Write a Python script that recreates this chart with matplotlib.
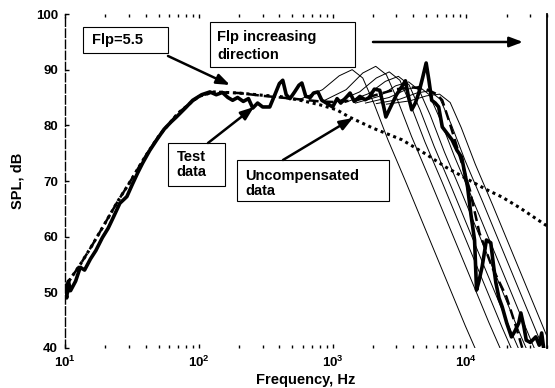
import matplotlib
matplotlib.use("Agg")
import matplotlib.pyplot as plt
from matplotlib.patches import Rectangle

plt.rcParams['font.family'] = ['Liberation Sans', 'DejaVu Sans']
plt.rcParams['font.weight'] = 'bold'

# test data (thick solid)
test_f = [10, 10.3, 10.6, 11, 12, 13, 14, 15.5, 17, 19, 21, 23, 25.7, 29, 32, 35, 38, 43,
          48.5, 55, 62, 68, 80, 90, 105, 121, 135, 150, 165, 179, 195, 215, 235, 253, 275,
          300, 339, 370, 400, 424, 450, 480, 520, 560, 589, 630, 680, 720, 776, 830, 900,
          1000, 1080, 1150, 1260, 1350, 1450, 1600, 1750, 1880, 2050, 2250, 2400, 2500,
          2650, 2800, 3000, 3300, 3500, 3700, 3900, 4150, 4400, 4700, 5000, 5250, 5500,
          5850, 6200, 6600, 7200, 7800, 8500, 9200, 9800, 10200, 10800, 11500, 11900,
          12400, 13100, 14100, 15200, 16000, 16600, 17500, 18500, 20000, 21700, 23000,
          24600, 25500, 26800, 28000, 30000, 33000, 35000, 36500, 38000, 40000]
test_db = [50.5, 49.0, 52.0, 50.3, 52.0, 54.5, 54.0, 56.0, 57.5, 59.8, 61.5, 63.5, 66.0,
           67.2, 69.5, 71.5, 73.2, 75.5, 77.4, 79.3, 80.6, 81.5, 83.2, 84.5, 85.5, 86.0,
           85.5, 85.9, 85.0, 84.5, 85.0, 84.3, 84.8, 83.1, 84.0, 83.3, 83.3, 85.5, 87.5,
           88.1, 85.5, 84.8, 86.0, 87.2, 87.6, 85.2, 85.0, 85.8, 86.0, 84.5, 84.0, 83.3,
           84.8, 84.0, 85.0, 85.8, 84.3, 85.2, 84.6, 85.0, 86.5, 86.3, 83.5, 81.5, 82.8,
           84.0, 85.5, 87.0, 88.0, 85.0, 82.8, 84.0, 85.8, 88.5, 91.2, 88.0, 84.5, 84.0,
           83.3, 79.7, 78.5, 77.4, 75.5, 74.3, 71.0, 68.9, 64.0, 59.4, 50.4, 52.0, 54.6,
           59.4, 58.9, 54.5, 51.7, 49.0, 47.4, 44.5, 42.0, 43.0, 44.5, 46.3, 44.0, 41.4,
           41.0, 42.0, 40.5, 42.7, 39.5, 38.5]

# model Flp=5.5 (thick dashed)
model_f = [10, 13, 16, 20, 25, 30, 40, 50, 70, 100, 130, 200, 300, 500, 800, 1000, 1500,
           2000, 3000, 4000, 5000, 6000, 6600, 7500, 8500, 10600, 12500, 15500, 19900,
           23500, 26000, 27500]
model_db = [51.0, 55.0, 58.5, 62.5, 66.5, 69.5, 74.5, 78.0, 82.2, 85.2, 86.0, 85.8, 85.3,
            84.8, 84.3, 84.2, 84.5, 85.3, 86.5, 86.8, 86.5, 85.6, 84.5, 80.4, 76.1, 68.4,
            60.7, 54.6, 49.2, 43.8, 40.2, 38.5]

# uncompensated (thick dotted)
unc_f = [10, 13, 16, 20, 25, 30, 40, 50, 70, 100, 130, 200, 300, 400, 600, 800, 1070,
         1330, 2000, 3300, 5000, 7000, 10400, 14000, 18500, 25000, 39000, 40000]
unc_db = [51.0, 55.0, 58.5, 62.5, 66.5, 69.5, 74.5, 78.0, 82.2, 85.2, 86.0, 85.8, 85.4,
          85.2, 84.4, 83.7, 82.8, 81.5, 79.5, 77.4, 74.8, 72.5, 70.2, 68.5, 67.1, 65.2,
          62.1, 62.0]

# family of curves, Flp increasing (thin)
thin_f = [
    [560, 840, 1120, 1400, 1680, 2030, 2590, 3500, 4900, 7000, 9800, 12600],
    [840, 1260, 1680, 2100, 2520, 3050, 3890, 5250, 7350, 10500, 14700, 18900],
    [1060, 1590, 2120, 2650, 3180, 3840, 4900, 6630, 9280, 13250, 18550, 23850],
    [1240, 1860, 2480, 3100, 3720, 4500, 5740, 7750, 10850, 15500, 21700, 27900],
    [1480, 2220, 2960, 3700, 4440, 5370, 6850, 9250, 12950, 18500, 25900, 33300],
    [1760, 2640, 3520, 4400, 5280, 6380, 8140, 11000, 15400, 22000, 30800, 39600],
    [2120, 3180, 4240, 5300, 6360, 7690, 9800, 13250, 18550, 26500, 37100, 42000],
    [2520, 3780, 5040, 6300, 7560, 9140, 11650, 15750, 22050, 31500, 44100],
]
thin_db = [
    [84.6, 86.4, 88.9, 90.0, 88.5, 84.0, 77.4, 70.0, 61.5, 52.5, 44.0, 38.0],
    [84.3, 86.4, 89.4, 90.6, 89.1, 84.6, 78.0, 70.6, 62.1, 53.1, 44.6, 38.6],
    [84.2, 86.0, 88.5, 89.6, 88.1, 83.6, 77.0, 69.6, 61.1, 52.1, 43.6, 37.6],
    [84.1, 85.7, 87.9, 88.8, 87.3, 82.8, 76.2, 68.8, 60.3, 51.3, 42.8, 36.8],
    [84.0, 85.2, 87.1, 87.8, 86.3, 81.8, 75.2, 67.8, 59.3, 50.3, 41.8, 35.8],
    [84.0, 85.0, 86.4, 87.0, 85.5, 81.0, 74.4, 67.0, 58.5, 49.5, 41.0, 35.0],
    [83.9, 84.7, 85.8, 86.2, 84.7, 80.2, 73.6, 66.2, 57.7, 48.7, 40.2, 38.7],
    [83.8, 84.4, 85.3, 85.6, 84.1, 79.6, 73.0, 65.6, 57.1, 48.1, 39.6],
]

xticks = [10, 100, 1000, 10000]
xticklabels = [r'$\mathbf{10^{1}}$', r'$\mathbf{10^{2}}$', r'$\mathbf{10^{3}}$', r'$\mathbf{10^{4}}$']
yticks = [40, 50, 60, 70, 80, 90, 100]

plt.rcParams['mathtext.fontset'] = 'custom'
plt.rcParams['mathtext.bf'] = 'Liberation Sans:bold'
plt.rcParams['mathtext.rm'] = 'Liberation Sans'

fig = plt.figure(figsize=(5.55, 3.88), dpi=100)
ax = fig.add_axes([65/555, 1-348/388, 482/555, 334/388])

for f, d in zip(thin_f, thin_db):
    ax.plot(f, d, color='black', lw=0.7)
ax.plot(unc_f, unc_db, color='black', lw=2.2, linestyle=(0, (1, 1.2)))
ax.plot(model_f, model_db, color='black', lw=1.8, linestyle=(0, (4, 2)))
ax.plot(test_f, test_db, color='black', lw=2.6)

ax.set_xscale('log')
ax.set_xlim(10, 40000)
ax.set_ylim(40, 100)
ax.set_xticks(xticks)
ax.set_xticklabels(xticklabels, fontsize=9.5)
ax.set_yticks(yticks)
ax.set_yticklabels([str(v) for v in yticks], fontsize=9.5, fontweight='bold')
ax.tick_params(which='both', direction='in', top=True, right=False, pad=5)
ax.tick_params(which='major', length=3, width=1)
ax.tick_params(which='minor', length=2, width=1)
ax.spines['top'].set_visible(False)
ax.spines['bottom'].set_visible(False)
ax.spines['left'].set_linestyle((0, (6, 2)))
ax.spines['left'].set_linewidth(1.0)
ax.spines['right'].set_linewidth(1.3)

ax.set_xlabel('Frequency, Hz', fontsize=10.5, fontweight='bold', labelpad=2)
ax.set_ylabel('SPL, dB', fontsize=10.5, fontweight='bold', labelpad=8)

# annotation boxes, in axes fraction
def box(x0, y0, x1, y1):
    ax.add_patch(Rectangle((x0, y0), x1-x0, y1-y0, transform=ax.transAxes,
                           facecolor='white', edgecolor='black', lw=0.8, zorder=5,
                           clip_on=False))

box(0.0373, 0.8832, 0.2137, 0.9611)
ax.text(0.056, 0.922, 'Flp=5.5', transform=ax.transAxes, fontsize=10.5, fontweight='bold',
        va='center', ha='left', zorder=6)
box(0.3008, 0.8413, 0.6017, 0.976)
ax.text(0.316, 0.932, 'Flp increasing', transform=ax.transAxes, fontsize=10.5,
        fontweight='bold', va='center', ha='left', zorder=6)
ax.text(0.316, 0.878, 'direction', transform=ax.transAxes, fontsize=10.5,
        fontweight='bold', va='center', ha='left', zorder=6)
box(0.2137, 0.4850, 0.3320, 0.6138)
ax.text(0.232, 0.5718, 'Test', transform=ax.transAxes, fontsize=10.5, fontweight='bold',
        va='center', ha='left', zorder=6)
ax.text(0.232, 0.5270, 'data', transform=ax.transAxes, fontsize=10.5, fontweight='bold',
        va='center', ha='left', zorder=6)
box(0.3568, 0.4401, 0.6722, 0.5629)
ax.text(0.3734, 0.5150, 'Uncompensated', transform=ax.transAxes, fontsize=10.5,
        fontweight='bold', va='center', ha='left', zorder=6)
ax.text(0.3734, 0.4700, 'data', transform=ax.transAxes, fontsize=10.5, fontweight='bold',
        va='center', ha='left', zorder=6)

arrows = [((0.2137, 0.8743), (0.3423, 0.7874)),
          ((0.6390, 0.9162), (0.9502, 0.9162)),
          ((0.2967, 0.6138), (0.3921, 0.7216)),
          ((0.4523, 0.5629), (0.5975, 0.6886))]
for tail, head in arrows:
    ax.annotate('', xy=head, xytext=tail, xycoords='axes fraction',
                textcoords='axes fraction', zorder=7,
                arrowprops=dict(arrowstyle='-|>,head_width=0.3,head_length=0.8',
                                color='black', lw=1.8, shrinkA=0, shrinkB=0))

fig.savefig('out.png', dpi=100)
